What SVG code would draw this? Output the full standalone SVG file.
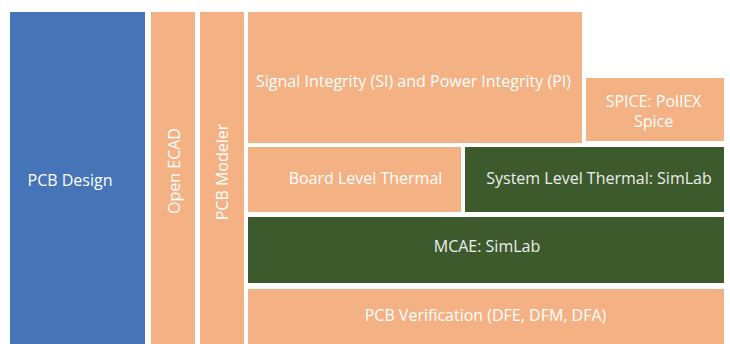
<svg xmlns="http://www.w3.org/2000/svg" width="730" height="344" viewBox="0 0 730 344">
<style>
.blue{fill:#4674B8}
.or{fill:#F4B183}
.gr{fill:#3C5A2B}
text{font-family:"Open Sans","Noto Sans",sans-serif;font-size:16px;fill:#FFFFFF;text-anchor:middle}
.gt{fill:#EEEEEE}
</style>
<rect width="730" height="344" fill="#FFFFFF"/>
<g id="pcb-design"><rect class="blue" x="10" y="12" width="135" height="332"/><text x="70" y="186">PCB Design</text></g>
<g id="open-ecad"><rect class="or" x="151" y="12" width="44" height="332"/><text transform="translate(180,171) rotate(-90)">Open ECAD</text></g>
<g id="pcb-modeler"><rect class="or" x="200" y="12" width="44" height="332"/><text transform="translate(228,172) rotate(-90)">PCB Modeler</text></g>
<g id="si-pi"><rect class="or" x="248" y="12" width="334" height="131"/><text x="413.5" y="87">Signal Integrity (SI) and Power Integrity (PI)</text></g>
<g id="spice"><rect class="or" x="586" y="78" width="138" height="63"/><text x="653.5" y="106.5">SPICE: PollEX</text><text x="653.5" y="126.5">Spice</text></g>
<g id="board-thermal"><rect class="or" x="248" y="147" width="213" height="65"/><text x="365.5" y="184">Board Level Thermal</text></g>
<g id="system-thermal"><rect class="gr" x="465" y="147" width="259" height="65"/><text class="gt" x="599" y="184">System Level Thermal: SimLab</text></g>
<g id="mcae"><rect class="gr" x="248" y="217" width="476" height="66"/><text class="gt" x="487" y="252">MCAE: SimLab</text></g>
<g id="pcb-verification"><rect class="or" x="248" y="289" width="476" height="55"/><text x="485.5" y="321">PCB Verification (DFE, DFM, DFA)</text></g>
<g id="connectors"/>
</svg>
